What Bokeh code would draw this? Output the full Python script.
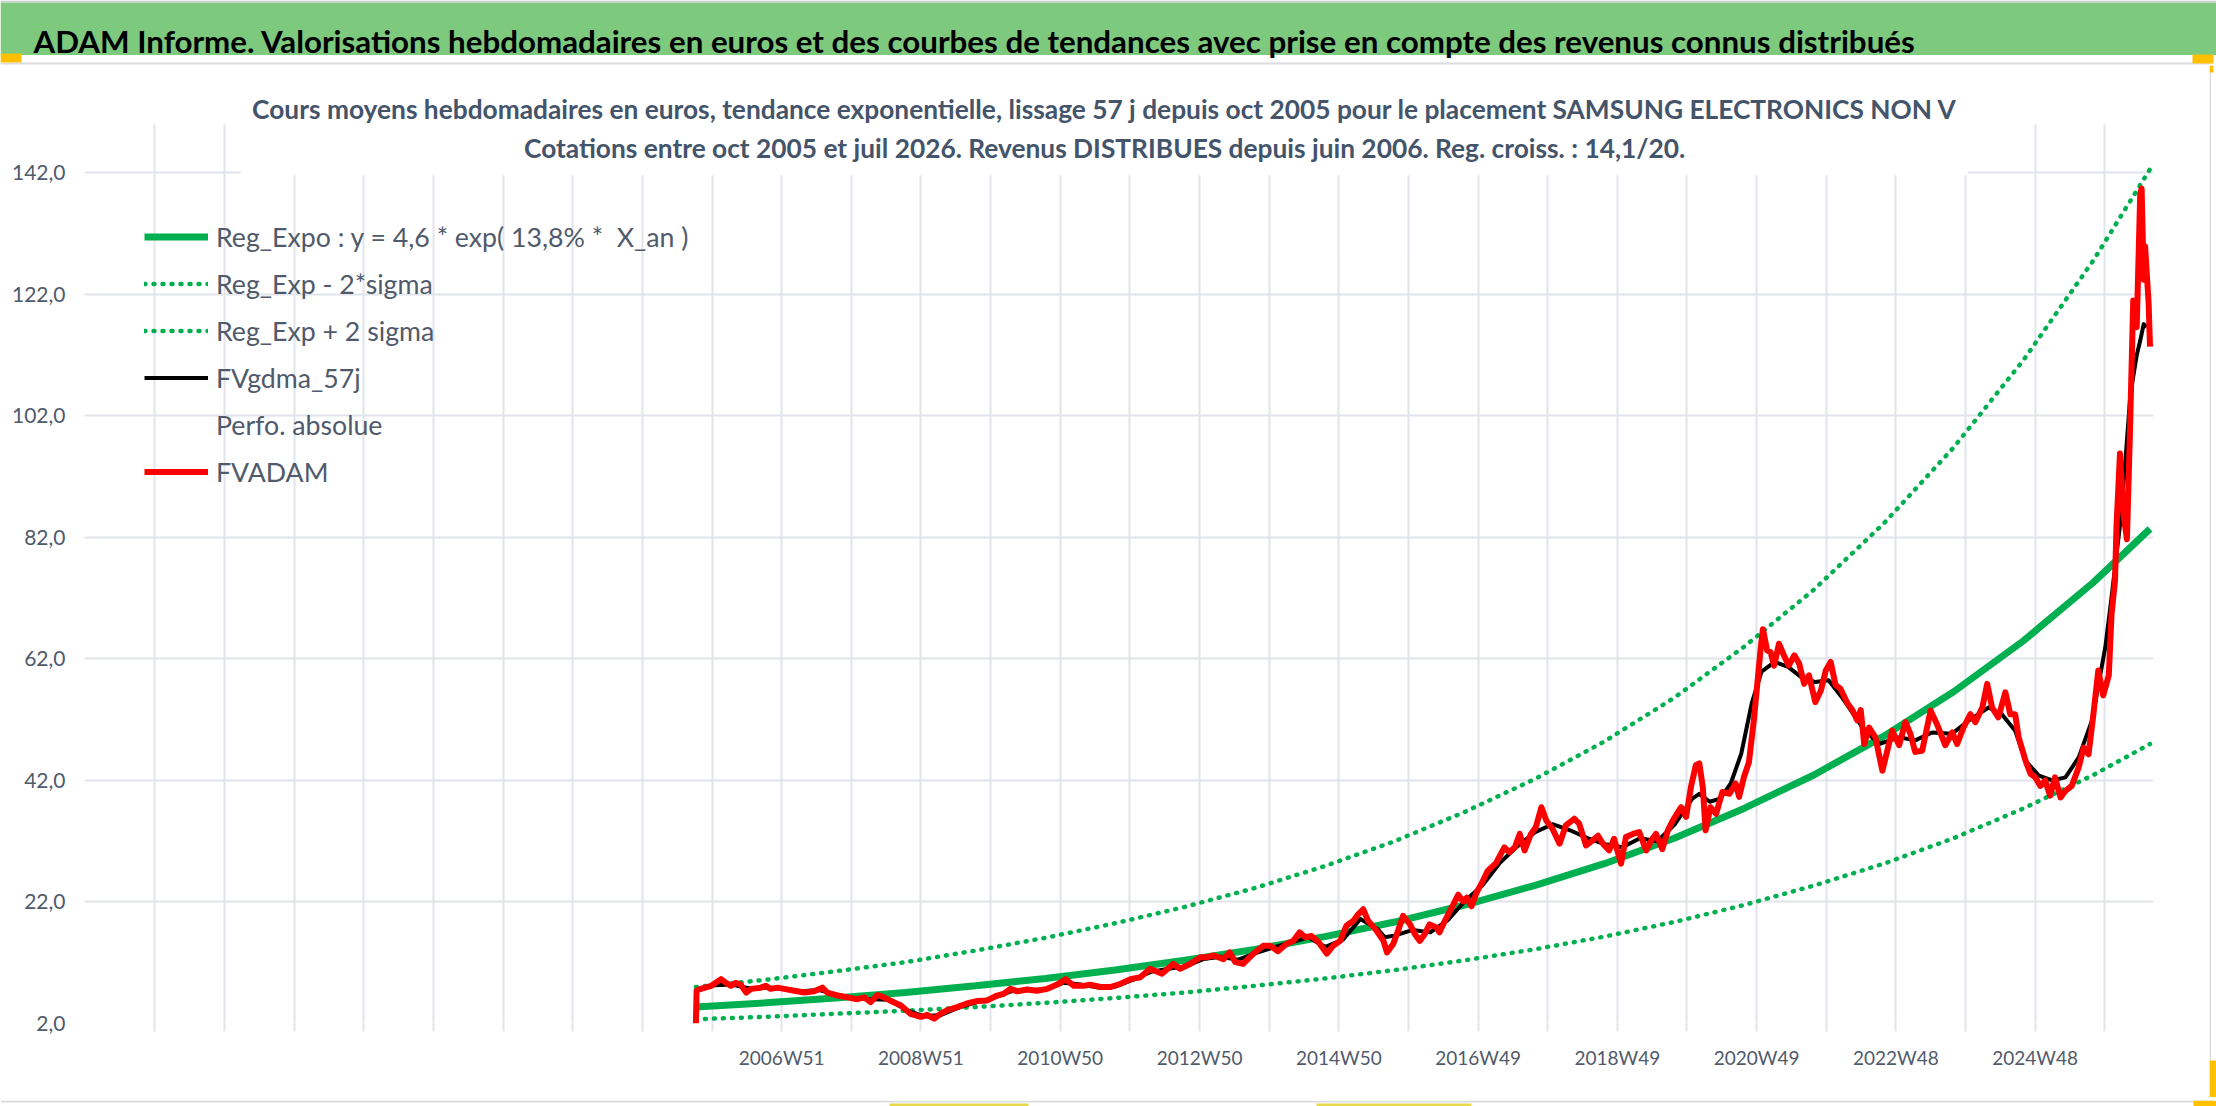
from bokeh.plotting import figure
from bokeh.models import (ColumnDataSource, FixedTicker, CustomJSTickFormatter, Legend,
                          LegendItem, Label, BoxAnnotation, Range1d)
from bokeh.layouts import column, row
from bokeh.embed import file_html
from bokeh.resources import INLINE
from bokeh.core.properties import value

FONT = "Lato"

banner_text = ("ADAM Informe. Valorisations hebdomadaires en euros et des courbes de tendances "
               "avec prise en compte des revenus connus distribués")
titre_1 = ("Cours moyens hebdomadaires en euros, tendance exponentielle, lissage 57 j depuis oct 2005 "
           "pour le placement SAMSUNG ELECTRONICS NON V")
titre_2 = "Cotations entre oct 2005 et juil 2026. Revenus DISTRIBUES depuis juin 2006. Reg. croiss. : 14,1/20."

legend_labels = ["Reg_Expo : y = 4,6 * exp( 13,8% *  X_an )", "Reg_Exp - 2*sigma", "Reg_Exp + 2 sigma",
                 "FVgdma_57j", "Perfo. absolue", "FVADAM"]

# x tick labels (ISO weeks, one label every 104 weeks, grid every 52 weeks)
week_labels = ["2006W51", "2008W51", "2010W50", "2012W50", "2014W50",
               "2016W49", "2018W49", "2020W49", "2022W48", "2024W48"]
y_ticks = [2, 22, 42, 62, 82, 102, 122, 142]
y_labels = ["2,0", "22,0", "42,0", "62,0", "82,0", "102,0", "122,0", "142,0"]

# FVADAM (weekly valuation) : time in decimal years
fv_t = [2005.74, 2005.75, 2005.81, 2005.96, 2006.10, 2006.17, 2006.24, 2006.31, 2006.38, 2006.46,
        2006.53, 2006.67, 2006.74, 2006.81, 2006.91, 2007.00, 2007.15, 2007.29, 2007.43, 2007.55,
        2007.62, 2007.77, 2007.91, 2008.05, 2008.15, 2008.24, 2008.34, 2008.43, 2008.57, 2008.67,
        2008.81, 2008.96, 2009.05, 2009.15, 2009.24, 2009.34, 2009.48, 2009.62, 2009.77, 2009.91,
        2010.05, 2010.15, 2010.24, 2010.34, 2010.48, 2010.62, 2010.77, 2010.91, 2011.03, 2011.15,
        2011.29, 2011.38, 2011.53, 2011.67, 2011.81, 2011.96, 2012.10, 2012.24, 2012.41, 2012.57,
        2012.67, 2012.81, 2012.96, 2013.05, 2013.15, 2013.29, 2013.38, 2013.46, 2013.57, 2013.72,
        2013.86, 2013.96, 2014.07, 2014.19, 2014.29, 2014.38, 2014.46, 2014.55, 2014.65, 2014.77,
        2014.86, 2014.96, 2015.05, 2015.15, 2015.22, 2015.29, 2015.36, 2015.48, 2015.58, 2015.63,
        2015.72, 2015.79, 2015.86, 2015.96, 2016.03, 2016.10, 2016.17, 2016.24, 2016.34, 2016.38,
        2016.48, 2016.58, 2016.65, 2016.72, 2016.77, 2016.84, 2016.91, 2017.00, 2017.07, 2017.19,
        2017.31, 2017.38, 2017.46, 2017.53, 2017.60, 2017.69, 2017.76, 2017.84, 2017.91, 2018.00,
        2018.10, 2018.19, 2018.31, 2018.38, 2018.48, 2018.57, 2018.65, 2018.72, 2018.81, 2018.88,
        2018.98, 2019.05, 2019.15, 2019.24, 2019.34, 2019.41, 2019.48, 2019.57, 2019.65, 2019.72,
        2019.84, 2019.91, 2019.98, 2020.05, 2020.10, 2020.15, 2020.19, 2020.26, 2020.34, 2020.43,
        2020.53, 2020.62, 2020.67, 2020.74, 2020.81, 2020.88, 2020.93, 2020.98, 2021.01, 2021.07,
        2021.12, 2021.17, 2021.24, 2021.31, 2021.38, 2021.46, 2021.53, 2021.60, 2021.67, 2021.76,
        2021.84, 2021.91, 2021.98, 2022.05, 2022.12, 2022.22, 2022.29, 2022.36, 2022.41, 2022.46,
        2022.53, 2022.62, 2022.72, 2022.79, 2022.86, 2022.96, 2023.05, 2023.12, 2023.19, 2023.29,
        2023.41, 2023.50, 2023.62, 2023.72, 2023.79, 2023.88, 2023.98, 2024.05, 2024.15, 2024.22,
        2024.29, 2024.38, 2024.48, 2024.55, 2024.62, 2024.67, 2024.77, 2024.84, 2024.91, 2024.98,
        2025.05, 2025.12, 2025.19, 2025.27, 2025.34, 2025.43, 2025.53, 2025.60, 2025.67, 2025.74,
        2025.81, 2025.88, 2025.96, 2026.00, 2026.05, 2026.07, 2026.12, 2026.17, 2026.22, 2026.265,
        2026.31, 2026.36, 2026.41, 2026.43, 2026.46, 2026.48, 2026.53, 2026.55]
fv_val = [2.0, 7.4, 7.7, 8.2, 9.3, 8.7, 8.2, 8.7, 8.4, 7.1,
          7.7, 7.9, 8.2, 7.7, 7.9, 7.7, 7.4, 7.1, 7.3, 7.9,
          7.1, 6.6, 6.3, 6.0, 6.3, 5.5, 6.7, 6.3, 5.5, 5.0,
          3.6, 3.1, 3.4, 2.8, 3.6, 4.2, 4.7, 5.3, 5.7, 5.8,
          6.6, 6.9, 7.7, 7.3, 7.6, 7.4, 7.7, 8.4, 9.3, 8.2,
          8.2, 8.4, 8.0, 8.0, 8.5, 9.3, 9.6, 11.0, 10.2, 11.8,
          11.0, 11.8, 12.9, 12.9, 13.2, 12.6, 13.7, 12.1, 11.8, 13.5,
          14.8, 14.8, 13.9, 15.1, 15.6, 17.0, 16.2, 16.4, 15.4, 13.5,
          14.8, 15.6, 18.1, 18.9, 20.0, 20.8, 18.9, 17.3, 15.6, 13.7,
          15.1, 17.3, 19.7, 18.3, 16.7, 15.6, 16.7, 18.3, 17.8, 17.0,
          19.4, 21.6, 23.2, 22.1, 22.7, 21.3, 23.5, 25.4, 27.1, 28.4,
          31.0, 30.2, 31.0, 33.2, 30.5, 33.2, 34.3, 37.6, 35.4, 34.0,
          31.6, 34.6, 35.7, 34.9, 31.3, 32.1, 32.9, 31.6, 30.5, 32.4,
          28.3, 32.7, 33.2, 33.5, 30.5, 32.1, 33.2, 30.7, 33.8, 35.4,
          37.6, 36.0, 40.9, 44.5, 44.8, 40.9, 33.8, 37.6, 36.5, 40.1,
          39.8, 41.5, 39.3, 42.6, 45.0, 51.9, 57.9, 63.9, 66.9, 63.4,
          63.1, 60.9, 64.5, 62.6, 60.9, 62.6, 61.2, 57.9, 59.3, 54.9,
          56.8, 60.1, 61.5, 57.7, 57.1, 54.7, 53.6, 51.9, 53.6, 48.0,
          50.7, 49.1, 43.6, 46.9, 50.2, 47.8, 51.6, 49.7, 46.7, 46.9,
          53.5, 51.3, 47.8, 49.9, 48.0, 50.7, 52.9, 51.6, 54.0, 57.9,
          54.0, 52.4, 56.5, 52.9, 52.9, 49.1, 45.2, 43.1, 42.5, 41.1,
          42.0, 39.5, 42.5, 39.2, 40.3, 41.1, 44.2, 47.4, 46.3, 52.9,
          60.1, 56.0, 59.3, 69.4, 75.0, 83.7, 95.8, 85.8, 81.7, 100.2,
          121.0, 116.6, 138.6, 139.4, 124.4, 129.9, 120.6, 113.4]

# FVgdma_57j (smoothed valuation)
gd_t = [2005.76, 2006.00, 2006.25, 2006.50, 2006.75, 2007.00, 2007.25, 2007.50, 2007.75, 2008.00,
        2008.25, 2008.50, 2008.75, 2009.00, 2009.25, 2009.50, 2009.75, 2010.00, 2010.25, 2010.50,
        2010.75, 2011.00, 2011.25, 2011.50, 2011.75, 2012.00, 2012.25, 2012.50, 2012.75, 2013.00,
        2013.25, 2013.50, 2013.75, 2014.00, 2014.25, 2014.50, 2014.75, 2015.00, 2015.25, 2015.50,
        2015.60, 2015.75, 2016.00, 2016.25, 2016.50, 2016.75, 2017.00, 2017.25, 2017.50, 2017.75,
        2018.00, 2018.25, 2018.50, 2018.75, 2019.00, 2019.25, 2019.50, 2019.75, 2020.00, 2020.10,
        2020.25, 2020.40, 2020.55, 2020.70, 2020.85, 2020.99, 2021.18, 2021.37, 2021.56, 2021.76,
        2021.95, 2022.14, 2022.43, 2022.67, 2022.96, 2023.19, 2023.43, 2023.72, 2023.96, 2024.24,
        2024.43, 2024.62, 2024.77, 2024.96, 2025.15, 2025.34, 2025.53, 2025.72, 2025.91, 2026.00,
        2026.12, 2026.20, 2026.27, 2026.36, 2026.41, 2026.46, 2026.50]
gd_val = [7.4, 8.3, 8.4, 7.8, 7.9, 7.7, 7.3, 7.5, 6.8, 6.2,
          6.0, 5.9, 4.2, 3.2, 3.4, 4.6, 5.5, 6.2, 7.3, 7.5,
          7.6, 8.7, 8.4, 7.9, 8.1, 9.2, 10.5, 11.0, 11.4, 12.6,
          13.0, 12.5, 13.6, 14.5, 15.3, 16.2, 14.6, 15.8, 19.2, 17.5,
          16.2, 16.5, 17.4, 17.0, 19.0, 22.2, 24.8, 28.5, 31.2, 33.5,
          34.8, 33.8, 32.5, 31.5, 31.0, 32.5, 32.0, 34.8, 39.0, 39.8,
          38.5, 39.0, 41.5, 46.4, 54.7, 59.9, 61.5, 60.7, 59.0, 58.2,
          58.5, 55.7, 50.8, 48.0, 49.1, 48.6, 49.9, 49.7, 51.9, 54.0,
          52.9, 50.2, 45.2, 42.8, 42.0, 42.5, 45.8, 51.9, 63.9, 72.2,
          84.0, 95.0, 105.6, 112.0, 114.4, 117.1, 116.6]

# exponential regression and +/- 2 sigma bands, read at yearly nodes
reg_t = [2005.74, 2006.74, 2007.74, 2008.74, 2009.74, 2010.74, 2011.74, 2012.74, 2013.74, 2014.74,
         2015.74, 2016.74, 2017.74, 2018.74, 2019.74, 2020.74, 2021.74, 2022.74, 2023.74, 2024.74,
         2025.74, 2026.55]
reg_val = [4.7, 5.4, 6.2, 7.1, 8.2, 9.4, 10.8, 12.4, 14.2, 16.3,
           18.7, 21.5, 24.7, 28.3, 32.5, 37.4, 42.9, 49.3, 56.6, 65.0,
           74.6, 83.4]
reg_moins = [2.7, 3.1, 3.6, 4.1, 4.7, 5.4, 6.2, 7.1, 8.2, 9.4,
             10.8, 12.4, 14.2, 16.3, 18.7, 21.5, 24.7, 28.3, 32.5, 37.4,
             42.9, 48.0]
reg_plus = [8.0, 9.2, 10.6, 12.1, 14.0, 16.1, 18.5, 21.2, 24.3, 27.9,
            32.0, 36.8, 42.2, 48.4, 55.6, 64.0, 73.4, 84.3, 96.8, 111.2,
            127.6, 142.6]

# ---------------------------------------------------------------- layout constants
W = 2216
W_MAIN = 2209
GREEN = "#00B050"
RED = "#FF0000"
GRID = "#E1E4EA"
TXT = "#44546A"
TICK_TXT = "#505A6B"
BORDER = "#DADCE0"
HANDLE = "#FFC000"


def no_align(fig):
    try:
        fig.frame_align = False
    except Exception:
        pass


def strip(width, height):
    f = figure(width=width, height=height, x_range=Range1d(0, width), y_range=Range1d(0, height),
               output_backend="svg", toolbar_location=None, title=None,
               x_axis_type=None, y_axis_type=None, min_border=0)
    no_align(f)
    f.grid.visible = False
    f.outline_line_color = None
    f.background_fill_color = "white"
    f.border_fill_color = "white"
    return f


# ---------------------------------------------------------------- banner (top strip)
BH = 65
banner = strip(W, BH)
banner.quad(left=[0], right=[W], bottom=[63.5], top=[BH], fill_color="#C8CACE", line_color=None)
banner.quad(left=[0], right=[W], bottom=[10.5], top=[63], fill_color="#7DC97D", line_color=None)
banner.quad(left=[0], right=[2209], bottom=[1.0], top=[3.0], fill_color=BORDER, line_color=None)
banner.quad(left=[0, 2192], right=[21, 2213], bottom=[3, 2], top=[12, 11], fill_color=HANDLE, line_color=None)
banner.text(x=[33], y=[25], text=[banner_text], text_font=value(FONT), text_font_style="bold",
            text_font_size="31.3px", text_color="black", text_baseline="alphabetic", text_align="left")

# ---------------------------------------------------------------- bottom strip (chart border)
FH = 9
footer = strip(W, FH)
footer.quad(left=[0], right=[2209], bottom=[7], top=[9], fill_color=BORDER, line_color=None)
footer.quad(left=[889, 1316], right=[1028, 1471], bottom=[0, 0], top=[6, 6], fill_color="#E6DA4C",
            line_color=None)
footer.quad(left=[2193], right=[W], bottom=[0], top=[9], fill_color=HANDLE, line_color=None)

# ---------------------------------------------------------------- main chart
FRAME_H = 958
PX_PER_UNIT = 6.076
MAIN_H = 1106 - BH - FH

# right strip (chart border on the right)
side = strip(W - W_MAIN, MAIN_H)
side.quad(left=[0], right=[1.6], bottom=[0], top=[MAIN_H], fill_color=BORDER, line_color=None)
side.quad(left=[0, 0], right=[4, W - W_MAIN], bottom=[MAIN_H - 7, 0], top=[MAIN_H, 37],
          fill_color=HANDLE, line_color=None)

X0, X1 = 1996.99, 2026.60
p = figure(width=W_MAIN, height=MAIN_H, x_range=Range1d(X0, X1),
           y_range=Range1d(2, 2 + FRAME_H / PX_PER_UNIT),
           output_backend="svg", toolbar_location=None, title=None,
           min_border_left=84, min_border_right=W_MAIN - 84 - 2069, min_border_top=0,
           min_border_bottom=MAIN_H - FRAME_H)
no_align(p)
p.outline_line_color = None
p.background_fill_color = "white"
p.border_fill_color = "white"


def week_to_year(s):
    y, w = s.split("W")
    return int(y) + (int(w) - 0.5) / 52.1775


T0 = week_to_year(week_labels[0])
STEP = 52 / 52.1775
x_ticks = [T0 + k * STEP for k in range(-9, 20)]

p.xaxis.ticker = FixedTicker(ticks=x_ticks)
p.xgrid.ticker = FixedTicker(ticks=x_ticks)
p.xaxis.formatter = CustomJSTickFormatter(args=dict(t0=T0, step=STEP, labels=week_labels), code="""
    const k = Math.round((tick - t0) / step);
    if (k >= 0 && k % 2 === 0 && k / 2 < labels.length) { return labels[k / 2]; }
    return "";
""")
p.xaxis.axis_line_color = None
p.xaxis.major_tick_line_color = GRID
p.xaxis.major_tick_line_width = 2
p.xaxis.major_tick_out = 8
p.xaxis.major_tick_in = 0
p.xaxis.minor_tick_line_color = None
p.xaxis.major_label_standoff = 14
p.xaxis.major_label_text_font = FONT
p.xaxis.major_label_text_font_size = "19px"
p.xaxis.major_label_text_color = TICK_TXT

p.yaxis.ticker = FixedTicker(ticks=y_ticks)
p.yaxis.major_label_overrides = {v: lab for v, lab in zip(y_ticks, y_labels)}
p.yaxis.axis_line_color = None
p.yaxis.major_tick_line_color = None
p.yaxis.minor_tick_line_color = None
p.yaxis.major_tick_out = 0
p.yaxis.major_label_standoff = 19
p.yaxis.major_label_text_font = FONT
p.yaxis.major_label_text_font_size = "21px"
p.yaxis.major_label_text_color = TICK_TXT

for g in (p.xgrid, p.ygrid):
    g.grid_line_color = GRID
    g.grid_line_width = 2
try:
    p.xgrid.cross_bounds = (2, 150)
except Exception:
    pass

# curves
src_reg = ColumnDataSource(dict(t=reg_t, reg=reg_val, moins=reg_moins, plus=reg_plus))
src_fv = ColumnDataSource(dict(t=fv_t, v=fv_val))
src_gd = ColumnDataSource(dict(t=gd_t, v=gd_val))

r_moins = p.line("t", "moins", source=src_reg, line_color=GREEN, line_width=4.5,
                 line_dash="1 8", line_cap="round")
r_plus = p.line("t", "plus", source=src_reg, line_color=GREEN, line_width=4.5,
                line_dash="1 8", line_cap="round")
r_reg = p.line("t", "reg", source=src_reg, line_color=GREEN, line_width=7)
r_gd = p.line("t", "v", source=src_gd, line_color="black", line_width=4, line_join="round")
r_perf = p.line(x=[], y=[], line_color=RED, line_width=2.5, line_dash="1 4", line_cap="round")
r_fv = p.line("t", "v", source=src_fv, line_color=RED, line_width=6, line_join="round")

# white title box overlapping the plot area
p.add_layout(BoxAnnotation(left=1999.23, right=2023.94, bottom=141.6, top=152,
                           fill_color="white", fill_alpha=1.0, line_color=None))
p.add_layout(Label(x=2011.59, y=152.55, text=titre_1, text_align="center", text_baseline="alphabetic",
                   text_font=FONT, text_font_style="bold", text_font_size="26.3px", text_color=TXT))
p.add_layout(Label(x=2011.59, y=146.05, text=titre_2, text_align="center", text_baseline="alphabetic",
                   text_font=FONT, text_font_style="bold", text_font_size="26.3px", text_color=TXT))

renderers = [r_reg, r_moins, r_plus, r_gd, r_perf, r_fv]
legend = Legend(items=[LegendItem(label=lab, renderers=[r]) for lab, r in zip(legend_labels, renderers)],
                location=(60, 535), glyph_width=64, glyph_height=33, label_height=33, spacing=14,
                padding=0, margin=0, label_standoff=8, background_fill_alpha=0, border_line_color=None,
                label_text_font=FONT, label_text_font_size="26.7px", label_text_color=TICK_TXT)
p.add_layout(legend)

layout = column(banner, row(p, side, spacing=0), footer, spacing=0)
open("out.html", "w").write(file_html(layout, INLINE))
